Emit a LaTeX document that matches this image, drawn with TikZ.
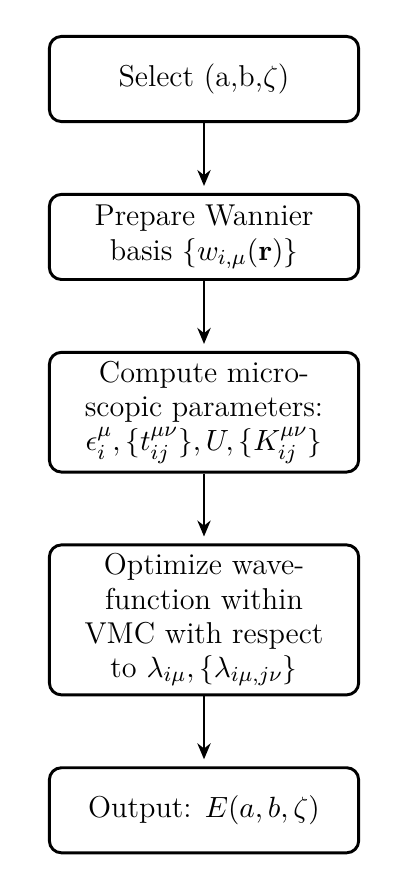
\documentclass[tikz,border=0pt]{standalone}
\usepackage{tikz}
\usetikzlibrary{arrows.meta,positioning}
\tikzset{
    step box/.style={draw,line width=1.1pt,rounded corners=4.5pt,align=center,
        minimum width=4.07cm,minimum height=1.12cm,inner sep=3.3pt},
    arr/.style={-{Stealth[length=6pt,width=5pt]},line width=0.8pt,shorten >=2.6pt},
}
\tikzstyle{every node}=[font=\fontsize{11.3}{12.8}\selectfont]
\begin{document}
\begin{tikzpicture}[node distance=0.92cm]
        \useasboundingbox (-2.685,1.04) rectangle (2.737,-10.502);
        \node[step box] (select) at (0,0) {Select (a,b,$\zeta$)};
        \node[step box, below=of select] (wannier)
        {Prepare Wannier\\ basis $\{w_{i,\mu}(\mathbf{r})\}$};
        \node[step box, below=of wannier] (compute)
        {Compute micro-\\ scopic parameters:\\
        $\epsilon_i^\mu,\{t_{ij}^{\mu\nu}\},U,\{K_{ij}^{\mu\nu}\}$};
        \node[step box, below=of compute] (optimize)
        {Optimize wave-\\ function within\\ VMC with respect\\
        to $\lambda_{i\mu},\{\lambda_{i\mu,j\nu}\}$};
        \node[step box, below=of optimize] (output) {Output: $E(a,b,\zeta)$};
        \draw[arr] (select) -- (wannier);
        \draw[arr] (wannier) -- (compute);
        \draw[arr] (compute) -- (optimize);
        \draw[arr] (optimize) -- (output);
    \end{tikzpicture}
\end{document}
